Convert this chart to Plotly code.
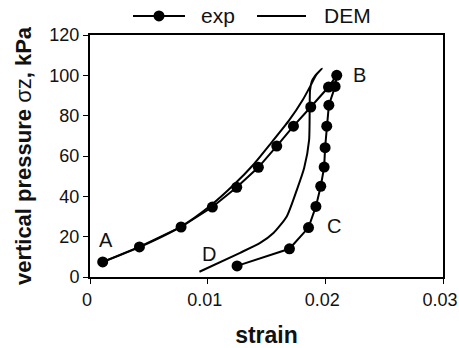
import plotly.graph_objects as go

exp_strain = [0.00108, 0.00420, 0.00774, 0.0104, 0.01247, 0.01431, 0.01587, 0.01729, 0.01876, 0.02027, 0.02097,
              0.02083, 0.02030, 0.02012, 0.01998, 0.01990, 0.01961, 0.01920, 0.01857, 0.01695, 0.01250]
exp_pressure = [7.5, 14.9, 24.8, 34.7, 44.5, 54.4, 64.9, 74.8, 84.3, 94.2, 100,
                94.5, 85.2, 74.8, 64.1, 54.5, 45.0, 35.0, 24.5, 14.0, 5.5]

dem_strain = [0.0010, 0.0042, 0.0077, 0.0102, 0.0122, 0.0139, 0.0154, 0.0169, 0.0181, 0.0188, 0.0192, 0.0197,
              0.0191, 0.01885, 0.0187, 0.01862, 0.0182, 0.01758, 0.01672, 0.01559, 0.01446, 0.01276, 0.0093]
dem_pressure = [7.2, 14.8, 24.9, 35.2, 45.6, 55.8, 66.5, 77.5, 88.0, 95.5, 100.0, 103.3,
                99.5, 97.0, 92.6, 67.9, 54.0, 43.2, 30.0, 21.8, 16.9, 12.0, 2.6]

labels = ["A", "B", "C", "D"]
label_x = [0.0014, 0.0229, 0.0207, 0.0101]
label_y = [18.5, 100.0, 25.5, 11.3]

x_ticks = [0, 0.01, 0.02, 0.03]
x_tick_text = ["0", "0.01", "0.02", "0.03"]
y_ticks = [0, 20, 40, 60, 80, 100, 120]

series_names = ["exp", "DEM"]

FONT = "Liberation Sans, Arial, sans-serif"

fig = go.Figure()
fig.add_trace(go.Scatter(x=exp_strain, y=exp_pressure, mode="lines+markers", name=series_names[0],
                         line=dict(color="black", width=2),
                         marker=dict(color="black", size=11, symbol="circle"), showlegend=False))
fig.add_trace(go.Scatter(x=dem_strain, y=dem_pressure, mode="lines", name=series_names[1],
                         line=dict(color="black", width=2, shape="spline", smoothing=0.6), showlegend=False))

for t, xx, yy in zip(labels, label_x, label_y):
    fig.add_annotation(x=xx, y=yy, text=t, showarrow=False,
                       font=dict(family=FONT, size=20, color="#111"))

# legend drawn above the plot (paper coordinates)
leg_y = 1.079
leg_items = [(0.1218, 0.2691, 0.3088, True), (0.4731, 0.6119, 0.6572, False)]
for name, (lx0, lx1, tx, has_marker) in zip(series_names, leg_items):
    fig.add_shape(type="line", xref="paper", yref="paper", x0=lx0, x1=lx1, y0=leg_y, y1=leg_y,
                  line=dict(color="black", width=2))
    if has_marker:
        xm = (lx0 + lx1) / 2
        fig.add_shape(type="circle", xref="paper", yref="paper", xsizemode="pixel", ysizemode="pixel",
                      xanchor=xm, yanchor=leg_y, x0=-5.5, x1=5.5, y0=-5.5, y1=5.5,
                      fillcolor="black", line=dict(color="black", width=0))
    fig.add_annotation(xref="paper", yref="paper", x=tx, y=leg_y, text=name, showarrow=False,
                       xanchor="left", yanchor="middle", font=dict(family=FONT, size=21, color="#111"))

fig.update_layout(
    width=459, height=348,
    margin=dict(l=90, r=16, t=35, b=70.5, autoexpand=False),
    paper_bgcolor="white", plot_bgcolor="white",
    font=dict(family=FONT, size=18, color="#111"),
    showlegend=False,
    xaxis=dict(range=[0, 0.03], tickvals=x_ticks, ticktext=x_tick_text, automargin=False,
               showgrid=False, zeroline=False, showline=True, linecolor="black", linewidth=2,
               mirror=True, ticks="outside", ticklen=5, tickcolor="black",
               tickfont=dict(size=18), ticklabeloverflow="allow", ticklabelshift=-3,
               title=dict(text="<b>strain</b>", font=dict(size=23), standoff=19)),
    yaxis=dict(range=[0, 120], tickvals=y_ticks, automargin=False,
               showgrid=False, zeroline=False, showline=True, linecolor="black", linewidth=2,
               mirror=True, ticks="outside", ticklen=5, tickcolor="black",
               tickfont=dict(size=18),
               title=dict(text="<b>vertical pressure </b>σz<b>, kPa</b>", font=dict(size=22), standoff=12)),
)

fig.write_html("out.html", config={"displayModeBar": False},
               post_script="document.body.style.margin='0px';")
